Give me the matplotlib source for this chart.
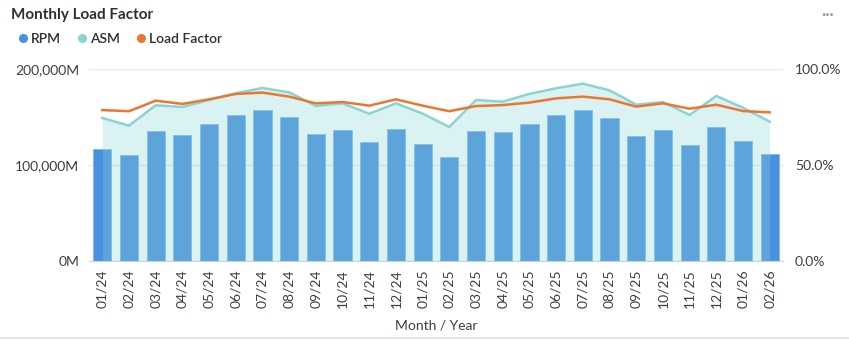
import numpy as np
import matplotlib
matplotlib.use("Agg")
from matplotlib import pyplot as plt
from matplotlib.lines import Line2D
from matplotlib.ticker import FuncFormatter

plt.rcParams['font.family'] = ['Lato', 'DejaVu Sans']

# Data (millions for RPM/ASM, percent for load factor)
months = ["01/24", "02/24", "03/24", "04/24", "05/24", "06/24", "07/24", "08/24",
          "09/24", "10/24", "11/24", "12/24", "01/25", "02/25", "03/25", "04/25",
          "05/25", "06/25", "07/25", "08/25", "09/25", "10/25", "11/25", "12/25",
          "01/26", "02/26"]
rpm = [117000, 110100, 135100, 130900, 142700, 151700, 157300, 149700,
       132300, 136500, 123600, 137800, 122200, 108700, 135100, 134400,
       142700, 151700, 157600, 149300, 130500, 136100, 120500, 139200,
       125000, 111500]
asm = [149000, 141000, 162200, 160400, 167700, 174700, 180200, 175700,
       161500, 164200, 153400, 164200, 153500, 139600, 167700, 166000,
       174000, 179900, 184700, 177800, 162800, 165600, 152100, 171900,
       159700, 145100]
load_factor = [78.6, 78.0, 83.5, 81.8, 84.2, 87.0, 87.7, 85.6,
               82.1, 82.8, 80.9, 84.2, 80.9, 78.0, 80.7, 81.2,
               82.5, 84.7, 85.6, 84.2, 80.4, 82.1, 79.3, 81.4,
               78.1, 77.4]

c_rpm = '#4A90E2'
c_asm = '#8AD4D4'
c_lf = '#EA7730'
c_txt = '#3A3F45'

x = np.arange(len(months))

fig = plt.figure(figsize=(8.49, 3.41), dpi=100)
ax = fig.add_axes([0.1048, 0.2346, 0.8175, 0.5631])

ax.bar(x, rpm, width=0.68, color=c_rpm, edgecolor='#7DB8E8', linewidth=0.6, zorder=2)
ax.fill_between(x, asm, 0, color=c_asm, alpha=0.3, linewidth=0, zorder=3)
ax.plot(x, asm, color=c_asm, lw=1.8, zorder=4)

ax.set_xlim(-0.5, len(months) - 0.5)
ax.set_ylim(0, 200000)
ax.set_yticks([0, 100000, 200000])
ax.yaxis.set_major_formatter(FuncFormatter(lambda v, p: f"{v:,.0f}M"))
ax.set_xticks(x)
ax.set_xticklabels(months, rotation=90)
ax.set_axisbelow(True)
ax.grid(axis='y', color='#E6E8EA', lw=1)
for s in ['top', 'right', 'left']:
    ax.spines[s].set_visible(False)
ax.spines['bottom'].set_color('#CDD5DC')
ax.tick_params(axis='both', length=0, labelsize=10, colors=c_txt)
ax.tick_params(axis='x', pad=6)
ax.tick_params(axis='y', pad=7)
ax.set_xlabel("Month / Year", fontsize=10, color=c_txt, labelpad=8)

ax2 = ax.twinx()
ax2.plot(x, load_factor, color=c_lf, lw=1.8, zorder=5)
ax2.set_ylim(0, 100)
ax2.set_yticks([0, 50, 100])
ax2.yaxis.set_major_formatter(FuncFormatter(lambda v, p: f"{v:.1f}%"))
for s in ax2.spines.values():
    s.set_visible(False)
ax2.tick_params(axis='y', length=0, labelsize=10, colors=c_txt, pad=8.5)

fig.text(0.013, 0.955, "Monthly Load Factor", fontsize=11, fontweight='bold',
         color='#2B3036', va='center')
fig.text(0.975, 0.955, "···", fontsize=12, color='#8A8F94', ha='center', va='center')

handles = [Line2D([], [], marker='o', ls='', color=c, markersize=5.5)
           for c in (c_rpm, c_asm, c_lf)]
fig.legend(handles, ["RPM", "ASM", "Load Factor"], loc='center left',
           bbox_to_anchor=(0.004, 0.885), ncol=3, frameon=False,
           handletextpad=0.1, columnspacing=1.0, handlelength=1.0,
           prop={'size': 10, 'weight': 'semibold'}, labelcolor='#2B3036')

fig.add_artist(Line2D([0, 1], [0.008, 0.008], color='#E2E4E6', lw=1.5))

fig.savefig("out.png", dpi=100)
